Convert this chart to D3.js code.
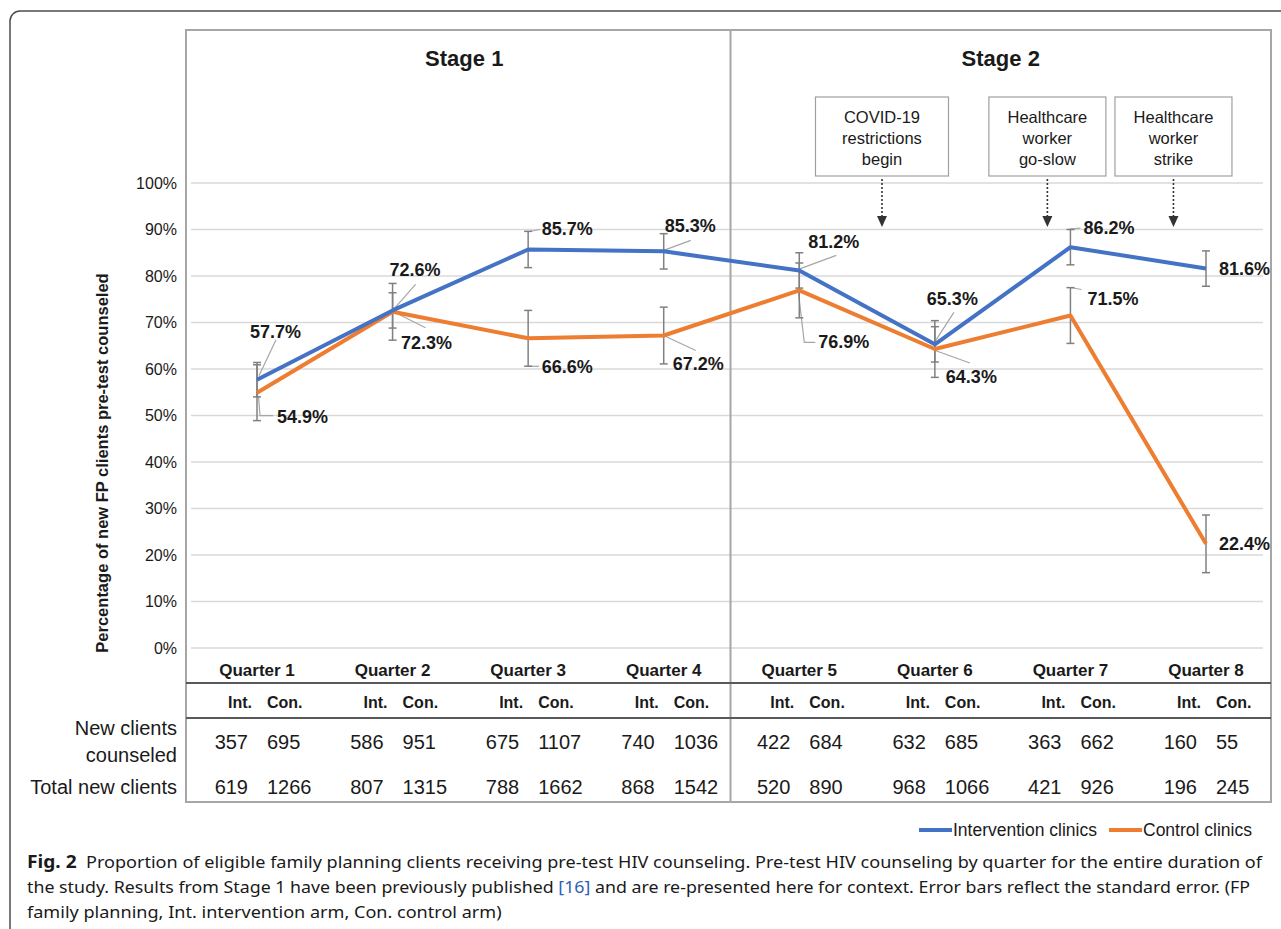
<!DOCTYPE html>
<html><head><meta charset="utf-8">
<script src="https://cdn.jsdelivr.net/npm/d3@7/dist/d3.min.js"></script>
<style>body{margin:0;background:#fff}svg{display:block}</style>
</head><body>
<svg id="chart" width="1281" height="929"></svg>
<script>
// ---------- data ----------
const quarters = ["Quarter 1","Quarter 2","Quarter 3","Quarter 4","Quarter 5","Quarter 6","Quarter 7","Quarter 8"];
const stages = ["Stage 1","Stage 2"];
const intervention = [57.7, 72.6, 85.7, 85.3, 81.2, 65.3, 86.2, 81.6];
const control      = [54.9, 72.3, 66.6, 67.2, 76.9, 64.3, 71.5, 22.4];
const interventionSE = [3.7, 3.8, 3.9, 3.8, 3.8, 3.8, 3.8, 3.8];
const controlSE      = [6.0, 6.1, 6.0, 6.1, 5.9, 6.1, 6.0, 6.2];
const intCounseled = [357, 586, 675, 740, 422, 632, 363, 160];
const conCounseled = [695, 951, 1107, 1036, 684, 685, 662, 55];
const intTotal = [619, 807, 788, 868, 520, 968, 421, 196];
const conTotal = [1266, 1315, 1662, 1542, 890, 1066, 926, 245];
const yTicks = [0, 10, 20, 30, 40, 50, 60, 70, 80, 90, 100];
const armLabels = ["Int.", "Con."];
const rowLabels = [["New clients", "counseled"], ["Total new clients"]];
const eventLabels = [["COVID-19","restrictions","begin"], ["Healthcare","worker","go-slow"], ["Healthcare","worker","strike"]];
const eventTimes = [5.61, 6.83, 7.76];   // in quarter units (1 = Quarter 1)
const seriesNames = ["Intervention clinics", "Control clinics"];
const yTitle = "Percentage of new FP clients pre-test counseled";
const captionLines = [
  [{t:"Fig. 2", b:true}, {t:"  Proportion of eligible family planning clients receiving pre-test HIV counseling. Pre-test HIV counseling by quarter for the entire duration of"}],
  [{t:"the study. Results from Stage 1 have been previously published "}, {t:"[16]", link:true}, {t:" and are re-presented here for context. Error bars reflect the standard error. (FP"}],
  [{t:"family planning, Int. intervention arm, Con. control arm)"}]
];

// ---------- layout (styles / offsets) ----------
const COLORS = {int:"#4472C4", con:"#ED7D31", grid:"#d9d9d9", err:"#808080", leader:"#a6a6a6", box:"#a6a6a6"};
const FONT = "'Liberation Sans', Arial, Helvetica, sans-serif";
const CAPFONT = "'Noto Sans', 'Open Sans', sans-serif";
const intLabelLayout = [
  {dx:-7, dy:-48, leader:[[2,-4],[19,-40]]},
  {dx:-3, dy:-40, leader:[[1,-1],[23,-26]]},
  {dx:13.5, dy:-20, leader:[[1,-18],[12,-20]]},
  {dx:1, dy:-25, leader:[[0,-1],[27,-11]]},
  {dx:9, dy:-28, leader:[[-1,-1],[37,-15]]},
  {dx:-8, dy:-45, leader:[[-1,-1],[19,-32]]},
  {dx:13, dy:-19.5, leader:[[-1,-18],[10,-19]]},
  {dx:13, dy:0, leader:null}
];
const conLabelLayout = [
  {dx:20, dy:24, leader:[[1.5,3],[3,23],[16,23]]},
  {dx:8.5, dy:31.5, leader:[[1,0],[33,16]]},
  {dx:13.5, dy:28.4, leader:[[1,28],[11,28]]},
  {dx:9, dy:28, leader:[[0,0],[32,15]]},
  {dx:19, dy:52, leader:[[-1,1],[5,52],[16,52]]},
  {dx:11, dy:27.7, leader:[[-1,1],[35,14]]},
  {dx:17, dy:-17, leader:[[0,-28],[11,-26]]},
  {dx:13, dy:0, leader:null}
];
const eventBoxWidths = [133, 117, 117];

const box = {left:186, top:30, right:1271, bottom:802};

const svg = d3.select("#chart");

// outer frame
svg.append("path")
  .attr("d", "M10,940 L10,21 A10,10 0 0 1 20,11 L1290,11")
  .attr("fill","none").attr("stroke","#4d4d4d").attr("stroke-width",1.5);

// scales
const xIdx = d3.scaleLinear().domain([1, 8]).range([257, 1206]);
const x = d3.scalePoint().domain(quarters).range([257, 1206]);
const y = d3.scaleLinear().domain([0, 100]).range([648, 183]);

// gridlines
svg.append("g").selectAll("line").data(yTicks).join("line")
  .attr("x1", 191).attr("x2", 1263)
  .attr("y1", d => y(d)).attr("y2", d => y(d))
  .attr("stroke", COLORS.grid).attr("stroke-width", 1.5);

// y axis
const yAxis = d3.axisLeft(y).tickValues(yTicks).tickFormat(d => d + "%").tickSize(0).tickPadding(0);
const ga = svg.append("g").attr("transform","translate(177,0)").call(yAxis);
ga.select(".domain").remove();
ga.selectAll("text").attr("font-family", FONT).attr("font-size", 16).attr("fill","#1a1a1a");

svg.append("text")
  .attr("transform", "translate(102,463) rotate(-90)")
  .attr("text-anchor","middle").attr("dominant-baseline","central")
  .attr("font-family", FONT).attr("font-weight","bold").attr("font-size", 16.5).attr("fill","#1a1a1a")
  .text(yTitle);

// chart box + stage divider
const divX = (x(quarters[3]) + x(quarters[4])) / 2 - 1;
svg.append("rect").attr("x", box.left).attr("y", box.top)
  .attr("width", box.right - box.left).attr("height", box.bottom - box.top)
  .attr("fill","none").attr("stroke", COLORS.box).attr("stroke-width", 2);
svg.append("line").attr("x1", divX).attr("x2", divX).attr("y1", box.top).attr("y2", box.bottom)
  .attr("stroke", COLORS.box).attr("stroke-width", 2);

// stage titles
const stageCenters = [(box.left + divX) / 2 + 6, (divX + box.right) / 2];
svg.append("g").selectAll("text").data(stages).join("text")
  .attr("x", (d,i) => stageCenters[i]).attr("y", 58)
  .attr("text-anchor","middle").attr("dominant-baseline","central")
  .attr("font-family", FONT).attr("font-weight","bold").attr("font-size", 22).attr("fill","#1a1a1a")
  .text(d => d);

// event boxes + arrows
const ev = svg.append("g");
eventLabels.forEach((lines, i) => {
  const cx = xIdx(eventTimes[i]);
  const w = eventBoxWidths[i];
  ev.append("rect").attr("x", cx - w/2).attr("y", 97).attr("width", w).attr("height", 79)
    .attr("fill","#fff").attr("stroke","#a0a0a0").attr("stroke-width",1.2);
  lines.forEach((l, j) => {
    ev.append("text").attr("x", cx).attr("y", 117 + j*21)
      .attr("text-anchor","middle").attr("dominant-baseline","central")
      .attr("font-family", FONT).attr("font-size", 16.5).attr("fill","#1a1a1a").text(l);
  });
  ev.append("line").attr("x1", cx).attr("x2", cx).attr("y1", 179).attr("y2", 217)
    .attr("stroke","#333").attr("stroke-width",1.6).attr("stroke-dasharray","2,2");
  ev.append("path").attr("d", `M${cx-5},216 L${cx+5},216 L${cx},227 Z`).attr("fill","#333");
});

// leader lines
function drawLeaders(vals, layout) {
  const g = svg.append("g");
  vals.forEach((v, i) => {
    const px = x(quarters[i]), py = y(v);
    const L = layout[i];
    if (L.leader) {
      g.append("polyline")
        .attr("points", L.leader.map(p => (px + p[0]) + "," + (py + p[1])).join(" "))
        .attr("fill","none").attr("stroke", COLORS.leader).attr("stroke-width", 1.2);
    }
  });
}
drawLeaders(intervention, intLabelLayout);
drawLeaders(control, conLabelLayout);

// error bars
function drawErr(vals, se) {
  const g = svg.append("g").attr("stroke", COLORS.err).attr("stroke-width", 1.5);
  vals.forEach((v, i) => {
    const px = x(quarters[i]);
    const y1 = y(v + se[i]), y2 = y(v - se[i]);
    g.append("line").attr("x1", px).attr("x2", px).attr("y1", y1).attr("y2", y2);
    g.append("line").attr("x1", px-4).attr("x2", px+4).attr("y1", y1).attr("y2", y1);
    g.append("line").attr("x1", px-4).attr("x2", px+4).attr("y1", y2).attr("y2", y2);
  });
}
drawErr(control, controlSE);
drawErr(intervention, interventionSE);

// series lines
const line = d3.line().x((d,i) => x(quarters[i])).y(d => y(d));
svg.append("path").datum(control).attr("d", line)
  .attr("fill","none").attr("stroke", COLORS.con).attr("stroke-width", 4).attr("stroke-linejoin","round");
svg.append("path").datum(intervention).attr("d", line)
  .attr("fill","none").attr("stroke", COLORS.int).attr("stroke-width", 4).attr("stroke-linejoin","round");

// value labels
function drawValues(vals, layout) {
  svg.append("g").selectAll("text").data(vals).join("text")
    .attr("x", (d,i) => x(quarters[i]) + layout[i].dx)
    .attr("y", (d,i) => y(d) + layout[i].dy)
    .attr("dominant-baseline","central")
    .attr("font-family", FONT).attr("font-weight","bold").attr("font-size", 18).attr("fill","#1a1a1a")
    .text(d => d.toFixed(1) + "%");
}
drawValues(intervention, intLabelLayout);
drawValues(control, conLabelLayout);

// ---------- table ----------
const tbl = svg.append("g");
tbl.selectAll("text.q").data(quarters).join("text").attr("class","q")
  .attr("x", d => x(d)).attr("y", 670)
  .attr("text-anchor","middle").attr("dominant-baseline","central")
  .attr("font-family", FONT).attr("font-weight","bold").attr("font-size", 17).attr("fill","#1a1a1a")
  .text(d => d);
[683, 718].forEach(yy => {
  tbl.append("line").attr("x1", box.left).attr("x2", box.right).attr("y1", yy).attr("y2", yy)
    .attr("stroke","#595959").attr("stroke-width", 2);
});
quarters.forEach(q => {
  const cx = x(q);
  tbl.append("text").attr("x", cx - 5).attr("y", 702).attr("text-anchor","end").attr("dominant-baseline","central")
    .attr("font-family", FONT).attr("font-weight","bold").attr("font-size", 16).attr("fill","#1a1a1a").text(armLabels[0]);
  tbl.append("text").attr("x", cx + 10).attr("y", 702).attr("text-anchor","start").attr("dominant-baseline","central")
    .attr("font-family", FONT).attr("font-weight","bold").attr("font-size", 16).attr("fill","#1a1a1a").text(armLabels[1]);
});
function numRow(intVals, conVals, yy) {
  intVals.forEach((v, i) => {
    const cx = x(quarters[i]);
    tbl.append("text").attr("x", cx - 9).attr("y", yy).attr("text-anchor","end").attr("dominant-baseline","central")
      .attr("font-family", FONT).attr("font-size", 20).attr("fill","#1a1a1a").text(v);
    tbl.append("text").attr("x", cx + 10).attr("y", yy).attr("text-anchor","start").attr("dominant-baseline","central")
      .attr("font-family", FONT).attr("font-size", 20).attr("fill","#1a1a1a").text(conVals[i]);
  });
}
numRow(intCounseled, conCounseled, 742);
numRow(intTotal, conTotal, 787);
const rowY = [[728, 755], [787]];
rowLabels.forEach((lines, r) => {
  lines.forEach((l, j) => {
    tbl.append("text").attr("x", 177).attr("y", rowY[r][j]).attr("text-anchor","end").attr("dominant-baseline","central")
      .attr("font-family", FONT).attr("font-size", 20).attr("fill","#1a1a1a").text(l);
  });
});

// ---------- legend ----------
const lg = svg.append("g");
const legendX = [919, 1109];
[COLORS.int, COLORS.con].forEach((c, i) => {
  lg.append("line").attr("x1", legendX[i]).attr("x2", legendX[i] + 33).attr("y1", 830).attr("y2", 830)
    .attr("stroke", c).attr("stroke-width", 4);
  lg.append("text").attr("x", legendX[i] + 34).attr("y", 830).attr("dominant-baseline","central")
    .attr("font-family", FONT).attr("font-size", 17.5).attr("fill","#1a1a1a").text(seriesNames[i]);
});

// ---------- caption ----------
const capTargets = [1235, 1223];
const capNodes = captionLines.map((parts, i) => {
  const t = svg.append("text").attr("x", 27).attr("y", 868 + i*25)
    .attr("font-family", CAPFONT).attr("font-size", 17).attr("fill","#1a1a1a")
    .attr("xml:space","preserve").style("white-space","pre");
  parts.forEach(p => {
    const s = t.append("tspan").text(p.t);
    if (p.b) s.attr("font-weight","bold").attr("font-size", 18);
    if (p.link) s.attr("fill","#2f5fb3");
  });
  return t;
});
const nat = capNodes.map(t => t.node().getComputedTextLength());
const ratio = capTargets[0] / nat[0];
capNodes.forEach((t, i) => {
  const target = capTargets[i] !== undefined ? capTargets[i] : nat[i] * ratio;
  t.attr("textLength", target).attr("lengthAdjust", "spacingAndGlyphs");
});
</script>
</body></html>
